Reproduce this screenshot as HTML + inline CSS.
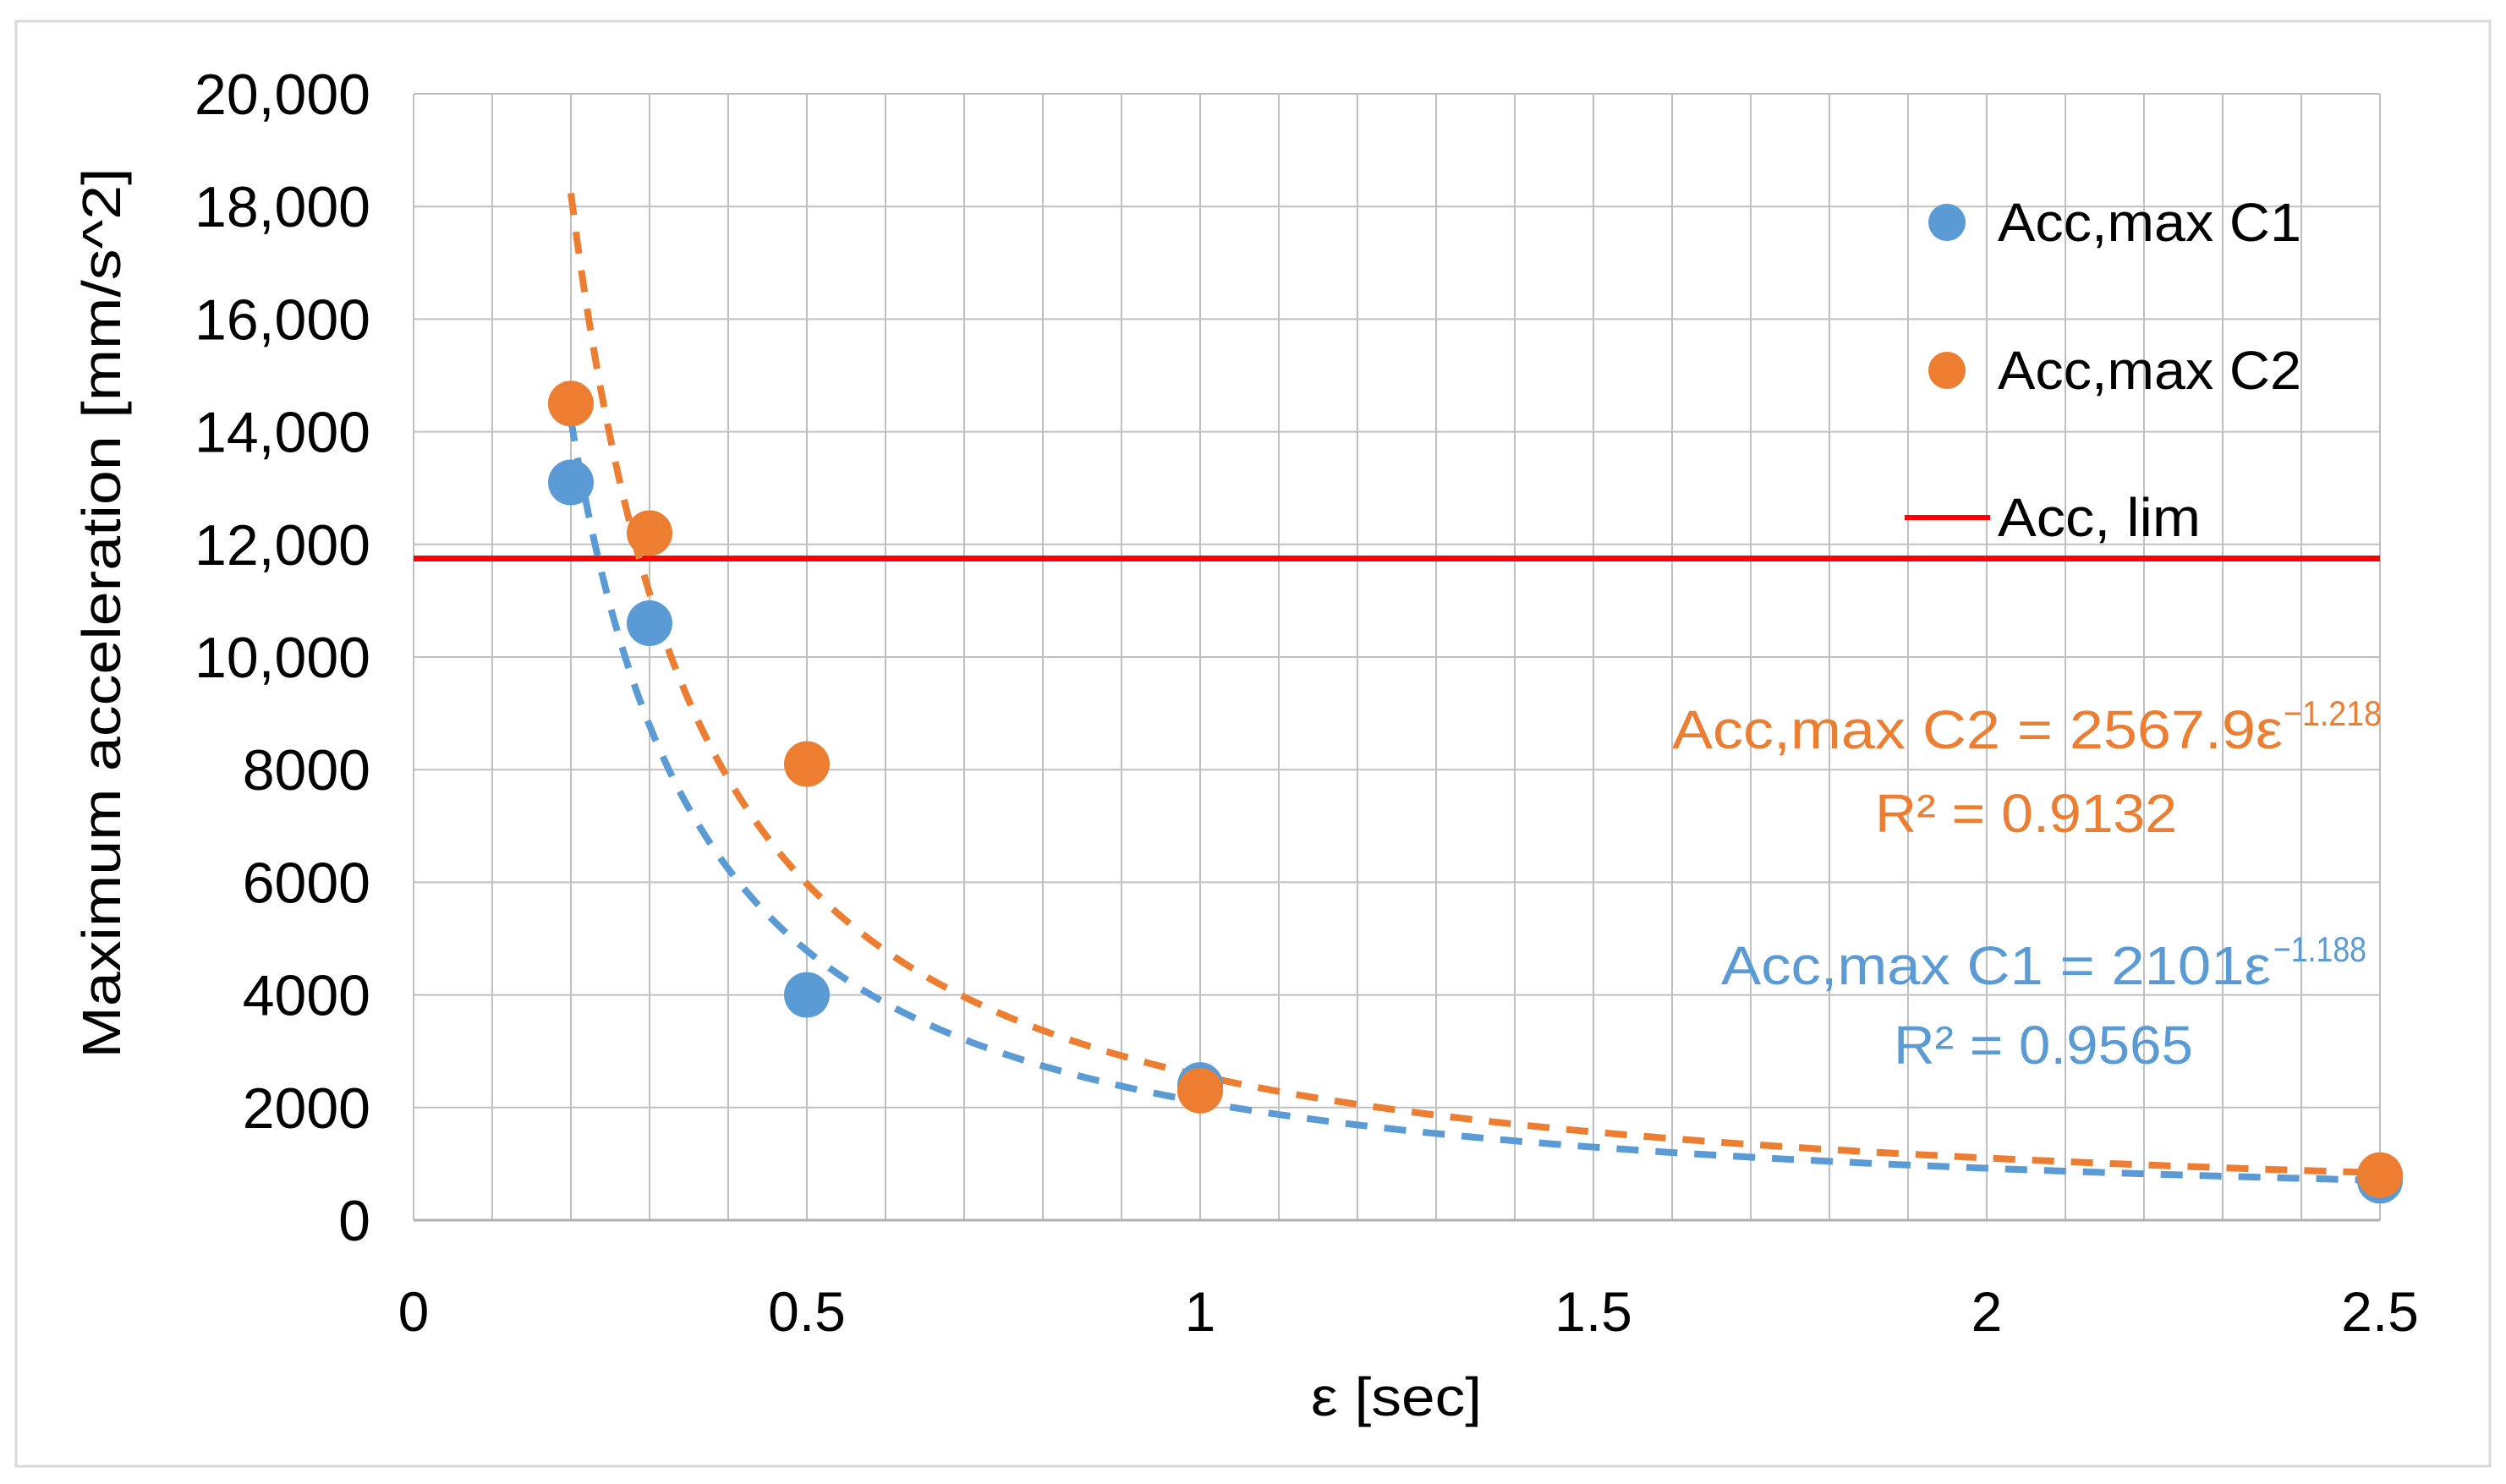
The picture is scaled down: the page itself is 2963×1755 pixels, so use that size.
<!DOCTYPE html>
<html><head><meta charset="utf-8"><style>
html,body{margin:0;padding:0;background:#fff;}
svg{display:block;font-family:"Liberation Sans",sans-serif;}
</style></head><body>
<svg id="chart" width="2963" height="1755" viewBox="0 0 2963 1755">
<rect x="19" y="25" width="2925" height="1709" fill="#fff" stroke="#d9d9d9" stroke-width="3"/>
<g id="grid"></g>
<g id="ticks"></g>
<g id="marks"></g>
<text transform="translate(142,725) rotate(-90)" text-anchor="middle" font-size="64" textLength="1053" lengthAdjust="spacingAndGlyphs" fill="#000">Maximum acceleration [mm/s^2]</text>
<text x="1651" y="1674" text-anchor="middle" font-size="64" textLength="202" lengthAdjust="spacingAndGlyphs" fill="#000">ε [sec]</text>
<g>
<circle cx="2302" cy="263" r="22" fill="#5B9BD5"/>
<text x="2362" y="285" font-size="64" textLength="359" lengthAdjust="spacingAndGlyphs" fill="#000">Acc,max C1</text>
<circle cx="2302" cy="438" r="22" fill="#ED7D31"/>
<text x="2362" y="460" font-size="64" textLength="359" lengthAdjust="spacingAndGlyphs" fill="#000">Acc,max C2</text>
<line x1="2252" y1="612" x2="2353" y2="612" stroke="#FF0000" stroke-width="6"/>
<text x="2362" y="634" font-size="64" textLength="240" lengthAdjust="spacingAndGlyphs" fill="#000">Acc, lim</text>
</g>
<g fill="#ED7D31">
<text x="1977" y="885" font-size="64" textLength="722" lengthAdjust="spacingAndGlyphs">Acc,max C2  = 2567.9ε</text>
<text x="2700" y="858" font-size="42" textLength="116" lengthAdjust="spacingAndGlyphs">−1.218</text>
<text x="2217" y="984" font-size="64" textLength="357" lengthAdjust="spacingAndGlyphs">R² = 0.9132</text>
</g>
<g fill="#5B9BD5">
<text x="2035" y="1164" font-size="64" textLength="650" lengthAdjust="spacingAndGlyphs">Acc,max C1 = 2101ε</text>
<text x="2688" y="1137" font-size="42" textLength="110" lengthAdjust="spacingAndGlyphs">−1.188</text>
<text x="2239" y="1258" font-size="64" textLength="354" lengthAdjust="spacingAndGlyphs">R² = 0.9565</text>
</g>
</svg>
<script>
const xVals = [0.2, 0.3, 0.5, 1, 2.5];
const c1Vals = [13100, 10600, 4000, 2400, 700];
const c2Vals = [14500, 12200, 8100, 2300, 800];
const limValue = 11750;
const c1Fit = [2101, -1.188];
const c2Fit = [2567.9, -1.218];
const xTickLabels = ["0", "0.5", "1", "1.5", "2", "2.5"];
const xTickValues = [0, 0.5, 1, 1.5, 2, 2.5];
const yTickValues = [0, 2000, 4000, 6000, 8000, 10000, 12000, 14000, 16000, 18000, 20000];
const yTickLabels = ["0", "2000", "4000", "6000", "8000", "10,000", "12,000", "14,000", "16,000", "18,000", "20,000"];

const L = 489, R = 2814, T = 111, B = 1443;
const xs = v => L + v / 2.5 * (R - L);
const ys = v => B - v / 20000 * (B - T);
const NS = "http://www.w3.org/2000/svg";
function mk(parent, tag, attrs) {
  const e = document.createElementNS(NS, tag);
  for (const k in attrs) e.setAttribute(k, attrs[k]);
  document.getElementById(parent).appendChild(e);
  return e;
}
for (let i = 0; i <= 25; i++) {
  const x = xs(i * 0.1);
  const g = mk('grid', 'line', {x1: x, y1: T, x2: x, y2: B, stroke: '#c0c0c0', 'stroke-width': 2});
  
  
}
yTickValues.forEach((v, i) => {
  const g = mk('grid', 'line', {x1: L, y1: ys(v), x2: R, y2: ys(v), stroke: i === 0 ? '#b0b0b0' : '#c0c0c0', 'stroke-width': i === 0 ? 3 : 2});
  
  
  const t = mk('ticks', 'text', {x: 438, y: ys(v) + 24, 'text-anchor': 'end', 'font-size': 68, fill: '#000'});
  t.textContent = yTickLabels[i];
  
  
});
xTickValues.forEach((v, i) => {
  const t = mk('ticks', 'text', {x: xs(v), y: 1574, 'text-anchor': 'middle', 'font-size': 66, fill: '#000'});
  t.textContent = xTickLabels[i];
  
  
});
const lim = mk('marks', 'line', {x1: L, y1: ys(limValue), x2: R, y2: ys(limValue), stroke: '#FF0000', 'stroke-width': 7});


function trend(fit, color, name) {
  let d = '';
  const x0 = xVals[0], x1 = xVals[xVals.length - 1];
  for (let i = 0; i <= 300; i++) {
    const x = x0 + (x1 - x0) * i / 300;
    d += (i ? 'L' : 'M') + xs(x).toFixed(1) + ',' + ys(fit[0] * Math.pow(x, fit[1])).toFixed(1);
  }
  const p = mk('marks', 'path', {d: d, fill: 'none', stroke: color, 'stroke-width': 8, 'stroke-dasharray': '26 20'});
  
  
}
trend(c1Fit, '#5B9BD5', 'trendline-c1');
trend(c2Fit, '#ED7D31', 'trendline-c2');
xVals.forEach((x, i) => {
  const c = mk('marks', 'circle', {cx: xs(x), cy: ys(c1Vals[i]), r: 27, fill: '#5B9BD5'});
  
  
});
xVals.forEach((x, i) => {
  const c = mk('marks', 'circle', {cx: xs(x), cy: ys(c2Vals[i]), r: 27, fill: '#ED7D31'});
  
  
});
</script>
</body></html>
